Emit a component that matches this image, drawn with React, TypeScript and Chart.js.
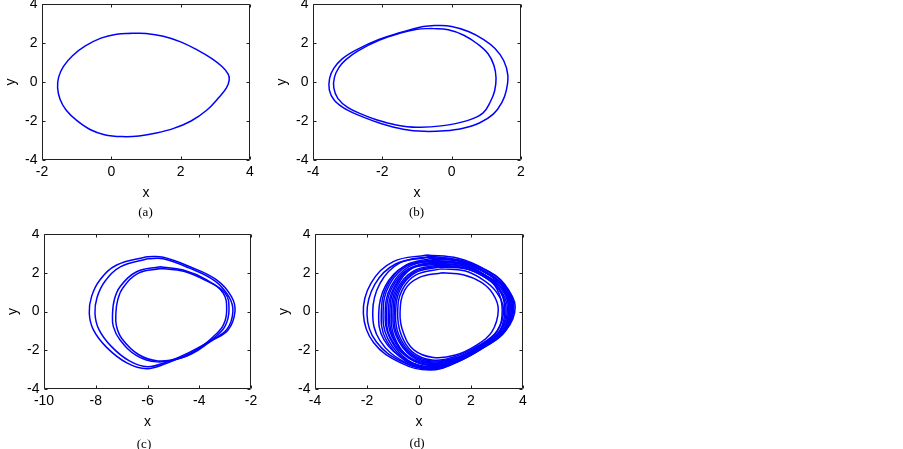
import React, { useEffect, useRef } from "react";
import { Chart, registerables } from "chart.js";

Chart.register(...registerables);

type Pt = [number, number];

// ---------- data ----------
const A_X_TICKS = [-2, 0, 2, 4];
const B_X_TICKS = [-4, -2, 0, 2];
const C_X_TICKS = [-10, -8, -6, -4, -2];
const D_X_TICKS = [-4, -2, 0, 2, 4];
const Y_TICKS = [-4, -2, 0, 2, 4];

const A_CYCLE: Pt[] = [
  [0.6, 2.5], [1.0, 2.49], [1.5, 2.35], [2.0, 2.06], [2.5, 1.62], [2.9, 1.2], [3.2, 0.78],
  [3.37, 0.4], [3.4, 0.1], [3.32, -0.3], [3.1, -0.8], [2.75, -1.45], [2.3, -2.0], [1.8, -2.38],
  [1.3, -2.62], [0.8, -2.77], [0.3, -2.8], [-0.2, -2.7], [-0.6, -2.45], [-1.0, -1.97],
  [-1.3, -1.45], [-1.48, -0.88], [-1.55, -0.3], [-1.52, 0.25], [-1.38, 0.8], [-1.12, 1.35],
  [-0.75, 1.85], [-0.3, 2.25], [0.15, 2.45],
];

const B_OUTER: Pt[] = [
  [-0.5, 2.9], [0.0, 2.85], [0.5, 2.58], [0.9, 2.2], [1.25, 1.72], [1.5, 1.1], [1.62, 0.35],
  [1.58, -0.4], [1.45, -1.05], [1.2, -1.65], [0.8, -2.1], [0.3, -2.38], [-0.2, -2.5],
  [-0.8, -2.53], [-1.4, -2.42], [-2.0, -2.15], [-2.55, -1.8], [-3.03, -1.42], [-3.38, -0.95],
  [-3.53, -0.4], [-3.52, 0.2], [-3.4, 0.7], [-3.15, 1.2], [-2.75, 1.65], [-2.1, 2.18],
  [-1.45, 2.55], [-0.95, 2.8],
];
const B_INNER: Pt[] = [
  [-0.6, 2.75], [-0.1, 2.68], [0.35, 2.4], [0.75, 1.95], [1.05, 1.45], [1.22, 0.85], [1.28, 0.2],
  [1.24, -0.45], [1.12, -1.0], [0.9, -1.6], [0.45, -1.98], [-0.3, -2.25], [-1.0, -2.32],
  [-1.6, -2.2], [-2.15, -1.95], [-2.6, -1.65], [-3.0, -1.3], [-3.28, -0.85], [-3.4, -0.3],
  [-3.38, 0.25], [-3.25, 0.75], [-3.05, 1.15], [-2.7, 1.6], [-2.08, 2.15], [-1.45, 2.52],
  [-1.0, 2.7],
];

const C_OUTER_1: Pt[] = [
  [-6.03, 2.83], [-5.39, 2.8], [-4.36, 2.31], [-3.33, 1.63], [-2.75, 0.76], [-2.62, -0.01],
  [-2.88, -0.95], [-3.46, -1.47], [-4.36, -2.16], [-5.26, -2.67], [-6.03, -2.95], [-6.8, -2.65],
  [-7.58, -1.85], [-8.09, -0.95], [-8.25, -0.09], [-8.16, 0.78], [-7.84, 1.63], [-7.19, 2.4],
];
const C_OUTER_2: Pt[] = [
  [-6.0, 2.72], [-5.4, 2.72], [-4.4, 2.25], [-3.4, 1.58], [-2.85, 0.75], [-2.7, 0.0],
  [-2.92, -0.9], [-3.5, -1.45], [-4.4, -2.12], [-5.25, -2.6], [-6.0, -2.85], [-6.7, -2.55],
  [-7.4, -1.8], [-7.88, -0.92], [-8.03, -0.1], [-7.95, 0.72], [-7.65, 1.55], [-7.05, 2.3],
];
const C_INNER_1: Pt[] = [
  [-5.52, 2.31], [-4.62, 2.14], [-3.71, 1.63], [-3.07, 0.94], [-2.94, 0.08], [-3.07, -0.7],
  [-3.46, -1.3], [-4.1, -1.99], [-4.74, -2.42], [-5.64, -2.6], [-6.42, -2.28], [-7.06, -1.47],
  [-7.32, -0.78], [-7.35, -0.09], [-7.28, 0.62], [-7.06, 1.28], [-6.42, 2.05],
];
const C_INNER_2: Pt[] = [
  [-5.5, 2.22], [-4.6, 2.08], [-3.72, 1.58], [-3.0, 0.95], [-2.85, 0.1], [-3.0, -0.75],
  [-3.42, -1.35], [-4.05, -2.0], [-4.72, -2.4], [-5.6, -2.55], [-6.35, -2.22], [-6.98, -1.42],
  [-7.2, -0.75], [-7.22, -0.05], [-7.15, 0.6], [-6.95, 1.22], [-6.35, 1.98],
];

const D_LOOP_1: Pt[] = [
  [0.3, 2.92], [1.5, 2.75], [2.5, 2.2], [3.3, 1.4], [3.65, 0.25], [3.3, -1.05], [2.5, -1.85],
  [1.4, -2.65], [0.42, -3.02], [-0.7, -2.65], [-1.75, -1.6], [-2.14, -0.1], [-1.85, 1.45], [-0.99, 2.57],
];
const D_LOOP_2: Pt[] = [
  [0.35, 2.8], [1.55, 2.62], [2.5, 2.1], [3.2, 1.35], [3.5, 0.3], [3.25, -1.0], [2.45, -1.85],
  [1.4, -2.6], [0.4, -2.95], [-0.65, -2.6], [-1.65, -1.55], [-2.0, -0.15], [-1.7, 1.4], [-0.9, 2.45],
];
const D_LOOP_3: Pt[] = [
  [0.45, 2.85], [1.6, 2.65], [2.55, 2.15], [3.28, 1.38], [3.6, 0.2], [3.3, -1.02], [2.5, -1.85],
  [1.45, -2.62], [0.45, -2.98], [-0.55, -2.62], [-1.5, -1.5], [-1.78, -0.05], [-1.5, 1.45], [-0.75, 2.5],
];
const D_LOOP_4: Pt[] = [
  [0.5, 2.6], [1.6, 2.45], [2.45, 1.95], [3.05, 1.25], [3.3, 0.15], [3.1, -1.0], [2.4, -1.8],
  [1.4, -2.55], [0.45, -2.85], [-0.5, -2.5], [-1.35, -1.45], [-1.55, -0.1], [-1.3, 1.3], [-0.6, 2.3],
];
const D_LOOP_5: Pt[] = [
  [0.6, 2.7], [1.7, 2.55], [2.55, 2.05], [3.25, 1.3], [3.55, 0.35], [3.3, -0.95], [2.45, -1.82],
  [1.45, -2.58], [0.5, -2.9], [-0.45, -2.55], [-1.2, -1.4], [-1.38, 0.0], [-1.15, 1.35], [-0.45, 2.35],
];
const D_LOOP_6: Pt[] = [
  [0.6, 2.5], [1.7, 2.35], [2.5, 1.9], [3.15, 1.2], [3.45, 0.2], [3.2, -1.0], [2.4, -1.8],
  [1.45, -2.5], [0.5, -2.75], [-0.4, -2.4], [-1.1, -1.35], [-1.25, -0.1], [-1.05, 1.2], [-0.4, 2.2],
];
const D_LOOP_7: Pt[] = [
  [0.7, 2.55], [1.75, 2.4], [2.5, 1.9], [3.0, 1.15], [3.2, 0.1], [3.0, -1.05], [2.3, -1.8],
  [1.4, -2.5], [0.5, -2.8], [-0.35, -2.4], [-1.0, -1.3], [-1.12, 0.0], [-0.92, 1.25], [-0.3, 2.25],
];
const D_LOOP_8: Pt[] = [
  [0.75, 2.4], [1.75, 2.25], [2.5, 1.8], [3.1, 1.15], [3.4, 0.2], [3.15, -1.0], [2.35, -1.78],
  [1.45, -2.42], [0.5, -2.65], [-0.3, -2.3], [-0.88, -1.25], [-1.0, -0.05], [-0.82, 1.2], [-0.2, 2.1],
];
const D_LOOP_9: Pt[] = [
  [0.8, 2.3], [1.8, 2.2], [2.6, 1.8], [3.35, 1.2], [3.7, 0.25], [3.35, -0.95], [2.45, -1.78],
  [1.45, -2.38], [0.5, -2.55], [-0.25, -2.2], [-0.78, -1.2], [-0.9, -0.1], [-0.72, 1.15], [-0.15, 2.0],
];
const D_LOOP_10: Pt[] = [
  [0.85, 2.2], [1.75, 2.1], [2.45, 1.65], [2.95, 1.05], [3.25, 0.1], [3.0, -1.0], [2.3, -1.75],
  [1.4, -2.32], [0.5, -2.5], [-0.25, -2.1], [-0.7, -1.15], [-0.82, 0.0], [-0.65, 1.1], [-0.1, 1.9],
];
const D_LOOP_11: Pt[] = [
  [0.9, 2.0], [1.7, 1.9], [2.4, 1.5], [2.85, 0.9], [3.05, 0.08], [2.8, -1.05], [2.2, -1.75],
  [1.4, -2.25], [0.55, -2.37], [-0.2, -1.98], [-0.6, -1.1], [-0.73, -0.1], [-0.55, 1.1], [0.0, 1.75],
];
const D_LOOP_12: Pt[] = [
  [0.55, 2.65], [1.65, 2.5], [2.55, 2.02], [3.3, 1.3], [3.62, 0.28], [3.32, -0.98], [2.48, -1.82],
  [1.45, -2.56], [0.48, -2.88], [-0.42, -2.52], [-1.12, -1.38], [-1.3, -0.05], [-1.08, 1.28], [-0.4, 2.3],
];
const D_LOOP_13: Pt[] = [
  [0.65, 2.45], [1.72, 2.32], [2.55, 1.88], [3.2, 1.2], [3.5, 0.18], [3.25, -1.0], [2.42, -1.8],
  [1.45, -2.46], [0.5, -2.7], [-0.38, -2.36], [-1.04, -1.3], [-1.18, -0.08], [-0.98, 1.2], [-0.35, 2.18],
];
const D_LOOP_14: Pt[] = [
  [0.7, 2.6], [1.75, 2.45], [2.58, 1.98], [3.25, 1.25], [3.55, 0.22], [3.28, -0.98], [2.45, -1.8],
  [1.46, -2.5], [0.5, -2.78], [-0.35, -2.42], [-0.95, -1.3], [-1.06, 0.02], [-0.86, 1.25], [-0.25, 2.25],
];
const D_LOOP_15: Pt[] = [
  [0.78, 2.35], [1.78, 2.22], [2.52, 1.78], [3.08, 1.12], [3.35, 0.15], [3.12, -1.0], [2.33, -1.78],
  [1.42, -2.4], [0.5, -2.6], [-0.28, -2.25], [-0.84, -1.22], [-0.95, -0.05], [-0.77, 1.18], [-0.18, 2.05],
];
const D_LOOP_16: Pt[] = [
  [0.5, 2.75], [1.62, 2.58], [2.5, 2.05], [3.2, 1.3], [3.45, 0.25], [3.22, -1.0], [2.45, -1.84],
  [1.42, -2.6], [0.45, -2.93], [-0.5, -2.58], [-1.28, -1.42], [-1.45, -0.05], [-1.22, 1.35], [-0.52, 2.38],
];

// ---------- layout / style ----------
const LINE_COLOR = "#0000ff";
const AXIS_COLOR = "#202020";
const SANS = '"Liberation Sans", Arial, Helvetica, sans-serif';
const SERIF = '"Liberation Serif", "Times New Roman", serif';
const CANVAS_W = 270;
const CANVAS_H = 205;

type PanelCfg = {
  loops: Pt[][];
  xTicks: number[];
  yTicks: number[];
  canvasLeft: number;
  canvasTop: number;
  boxL: number;
  boxR: number;
  boxT: number;
  boxB: number;
  caption: string;
  capX: number;
  capY: number;
};

const PANELS: PanelCfg[] = [
  { loops: [A_CYCLE], xTicks: A_X_TICKS, yTicks: Y_TICKS, canvasLeft: 0, canvasTop: 0,
    boxL: 42, boxR: 249, boxT: 4, boxB: 159, caption: "(a)", capX: 145.5, capY: 212 },
  { loops: [B_OUTER, B_INNER], xTicks: B_X_TICKS, yTicks: Y_TICKS, canvasLeft: 270, canvasTop: 0,
    boxL: 313, boxR: 520, boxT: 4, boxB: 159, caption: "(b)", capX: 416.5, capY: 212 },
  { loops: [C_OUTER_1, C_OUTER_2, C_INNER_1, C_INNER_2], xTicks: C_X_TICKS, yTicks: Y_TICKS,
    canvasLeft: 0, canvasTop: 229, boxL: 44, boxR: 250, boxT: 234, boxB: 388,
    caption: "(c)", capX: 144, capY: 444 },
  { loops: [D_LOOP_1, D_LOOP_2, D_LOOP_3, D_LOOP_16, D_LOOP_4, D_LOOP_5, D_LOOP_12, D_LOOP_6,
    D_LOOP_13, D_LOOP_7, D_LOOP_14, D_LOOP_8, D_LOOP_15, D_LOOP_9, D_LOOP_10, D_LOOP_11],
    xTicks: D_X_TICKS, yTicks: Y_TICKS,
    canvasLeft: 270, canvasTop: 229, boxL: 315, boxR: 522, boxT: 234, boxB: 388,
    caption: "(d)", capX: 417, capY: 443 },
];

const framePlugin = {
  id: "matlabFrame",
  afterDraw(chart: any) {
    const { ctx, chartArea: a, scales } = chart;
    const L = a.left + 0.5, R = a.right - 0.5, T = a.top + 0.5, B = a.bottom - 0.5;
    const tl = 3;
    ctx.save();
    ctx.strokeStyle = AXIS_COLOR;
    ctx.lineWidth = 1;
    ctx.beginPath();
    ctx.rect(L, T, R - L, B - T);
    for (const t of scales.x.ticks) {
      const px = Math.round(scales.x.getPixelForValue(t.value)) + 0.5;
      ctx.moveTo(px, B); ctx.lineTo(px, B - tl);
      ctx.moveTo(px, T); ctx.lineTo(px, T + tl);
    }
    for (const t of scales.y.ticks) {
      const py = Math.round(scales.y.getPixelForValue(t.value)) + 0.5;
      ctx.moveTo(L, py); ctx.lineTo(L + tl, py);
      ctx.moveTo(R, py); ctx.lineTo(R - tl, py);
    }
    ctx.stroke();
    ctx.restore();
  },
};

function Panel({ cfg }: { cfg: PanelCfg }) {
  const ref = useRef<HTMLCanvasElement | null>(null);
  useEffect(() => {
    if (!ref.current) return;
    const yWidth = cfg.boxL - cfg.canvasLeft;
    const padTop = cfg.boxT - cfg.canvasTop;
    const padRight = cfg.canvasLeft + CANVAS_W - (cfg.boxR + 1);
    const xHeight = cfg.canvasTop + CANVAS_H - (cfg.boxB + 1);
    const yTitlePad = yWidth - 30.5 - 8.4;
    const datasets = cfg.loops.map((loop) => ({
      data: [...loop, loop[0]].map(([x, y]) => ({ x, y })),
      showLine: true,
      borderColor: LINE_COLOR,
      borderWidth: 1.5,
      pointRadius: 0,
      tension: 0.4,
      fill: false,
    }));
    const xt = cfg.xTicks, yt = cfg.yTicks;
    const tickFont = { family: SANS, size: 14 };
    const chart = new Chart(ref.current, {
      type: "scatter",
      data: { datasets },
      options: {
        animation: false,
        responsive: false,
        maintainAspectRatio: false,
        events: [],
        layout: { autoPadding: false, padding: { top: padTop, right: padRight, bottom: 0, left: 0 } },
        plugins: { legend: { display: false }, tooltip: { enabled: false }, title: { display: false } },
        scales: {
          x: {
            type: "linear",
            min: xt[0],
            max: xt[xt.length - 1],
            grid: { display: false, drawTicks: false },
            border: { display: false },
            afterBuildTicks: (s: any) => { s.ticks = xt.map((v) => ({ value: v })); },
            afterFit: (s: any) => { s.height = xHeight; s.paddingLeft = 0; s.paddingRight = 0; s.paddingTop = 0; s.paddingBottom = 0; },
            ticks: { color: "#000", font: tickFont, padding: 3.5, maxRotation: 0, autoSkip: false },
            title: { display: true, text: "x", color: "#000", font: tickFont, padding: { top: 0, bottom: 3.6 } },
          },
          y: {
            type: "linear",
            min: yt[0],
            max: yt[yt.length - 1],
            grid: { display: false, drawTicks: false },
            border: { display: false },
            afterBuildTicks: (s: any) => { s.ticks = yt.map((v) => ({ value: v })); },
            afterFit: (s: any) => { s.width = yWidth; s.paddingLeft = 0; s.paddingRight = 0; s.paddingTop = 0; s.paddingBottom = 0; },
            ticks: { color: "#000", font: tickFont, padding: 4.5, autoSkip: false },
            title: { display: true, text: "y", color: "#000", font: tickFont, padding: { top: yTitlePad, bottom: 0 } },
          },
        },
      },
      plugins: [framePlugin],
    } as any);
    return () => chart.destroy();
  }, [cfg]);
  return (
    <>
      <canvas
        ref={ref}
        width={CANVAS_W}
        height={CANVAS_H}
        style={{ position: "absolute", left: cfg.canvasLeft, top: cfg.canvasTop, width: CANVAS_W, height: CANVAS_H }}
      />
      <div
        style={{
          position: "absolute", left: cfg.capX - 40, top: cfg.capY - 8, width: 80, height: 16,
          lineHeight: "16px", textAlign: "center", fontFamily: SERIF, fontSize: 13, color: "#000",
        }}
      >
        {cfg.caption}
      </div>
    </>
  );
}

export default function App() {
  return (
    <div style={{ position: "absolute", left: 0, top: 0, width: 903, height: 449, background: "#fff", overflow: "hidden" }}>
      {PANELS.map((p, i) => (
        <Panel key={i} cfg={p} />
      ))}
    </div>
  );
}
